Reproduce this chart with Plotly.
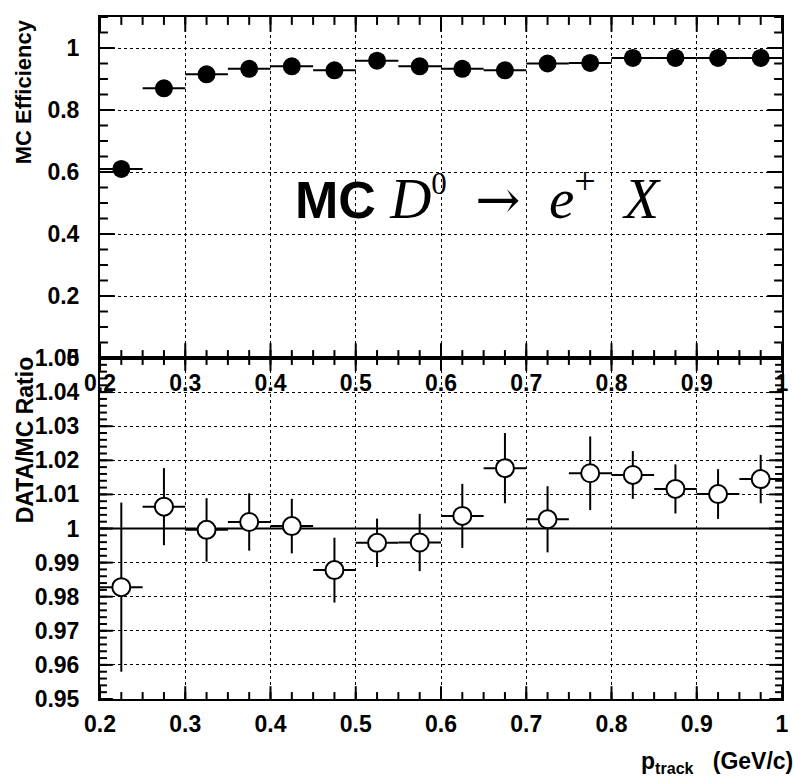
import plotly.graph_objects as go

# ---- data ----
bin_centers = [0.225, 0.275, 0.325, 0.375, 0.425, 0.475, 0.525, 0.575,
               0.625, 0.675, 0.725, 0.775, 0.825, 0.875, 0.925, 0.975]
bin_halfwidth = [0.025] * 16
mc_eff = [0.610, 0.870, 0.915, 0.933, 0.941, 0.928, 0.959, 0.941,
          0.933, 0.928, 0.950, 0.952, 0.968, 0.968, 0.968, 0.968]
ratio = [0.9828, 1.0064, 0.9996, 1.0019, 1.0007, 0.9878, 0.9958, 0.9959,
         1.0037, 1.0177, 1.0027, 1.0162, 1.0157, 1.0116, 1.0101, 1.0145]
ratio_err = [0.0248, 0.0113, 0.0093, 0.0084, 0.0080, 0.0095, 0.0071, 0.0084,
             0.0094, 0.0103, 0.0097, 0.0108, 0.0070, 0.0072, 0.0073, 0.0071]

# axis settings
x_range = [0.2, 1.0]
x_major, x_minor = 0.1, 0.025
ytop_range = [0.0, 1.1]
ytop_major, ytop_minor = 0.2, 0.05
ybot_range = [0.95, 1.05]
ybot_major, ybot_minor = 0.01, 0.002

W, H = 793, 778
ML, MR, MT, MB = 100, 4, 9, 79
PW = W - ML - MR
PH = H - MT - MB
PANEL_H = PH / 2

FONT = "Liberation Sans"
tickfont = dict(family=FONT, size=23, color="black", weight="bold")


def tick_values(lo, hi, step):
    n = int((hi - lo) / step + 1e-6)
    return [round(lo + i * step, 6) for i in range(n + 1)]


def tick_segments(xr, yr, xmaj, xmin, ymaj, ymin, len_x, len_y):
    """ROOT-style inside ticks on all four sides, in data units of the axes."""
    dx = (xr[1] - xr[0]) / PW          # data per pixel along x
    dy = (yr[1] - yr[0]) / PANEL_H     # data per pixel along y
    xs, ys = [], []
    for vals, L in ((tick_values(xr[0], xr[1], xmin), len_x[1]),
                    (tick_values(xr[0], xr[1], xmaj), len_x[0])):
        for v in vals:
            xs += [v, v, None, v, v, None]
            ys += [yr[0], yr[0] + L * dy, None, yr[1], yr[1] - L * dy, None]
    y0 = yr[0]
    for vals, L in ((tick_values(y0, yr[1], ymin), len_y[1]),
                    (tick_values(y0, yr[1], ymaj), len_y[0])):
        for v in vals:
            xs += [xr[0], xr[0] + L * dx, None, xr[1], xr[1] - L * dx, None]
            ys += [v, v, None, v, v, None]
    return xs, ys


fig = go.Figure()

# tick marks
for (xa, ya, yr, ymaj, ymin, lx, ly) in (
        ("x", "y", ytop_range, ytop_major, ytop_minor, (15, 8), (15, 8)),
        ("x2", "y2", ybot_range, ybot_major, ybot_minor, (13, 7), (13, 7))):
    tx, ty = tick_segments(x_range, yr, x_major, x_minor, ymaj, ymin, lx, ly)
    fig.add_trace(go.Scatter(x=tx, y=ty, mode="lines", line=dict(color="black", width=2),
                             xaxis=xa, yaxis=ya, hoverinfo="skip", showlegend=False))

fig.add_trace(go.Scatter(
    x=x_range, y=[1.0, 1.0], mode="lines", line=dict(color="black", width=2),
    xaxis="x2", yaxis="y2", hoverinfo="skip", showlegend=False))

fig.add_trace(go.Scatter(
    x=bin_centers, y=mc_eff, mode="markers",
    marker=dict(symbol="circle", size=18, color="black"),
    error_x=dict(type="data", array=bin_halfwidth, thickness=2, width=0, color="black"),
    xaxis="x", yaxis="y", showlegend=False))

fig.add_trace(go.Scatter(
    x=bin_centers, y=ratio, mode="markers",
    marker=dict(symbol="circle", size=18, color="white", line=dict(color="black", width=2)),
    error_x=dict(type="data", array=bin_halfwidth, thickness=2, width=0, color="black"),
    error_y=dict(type="data", array=ratio_err, thickness=2, width=0, color="black"),
    xaxis="x2", yaxis="y2", showlegend=False))

eps = 1e-6
base = dict(showline=True, linewidth=2, linecolor="black", mirror=True,
            ticks="outside", tickcolor="rgba(0,0,0,0)",
            showgrid=True, gridcolor="black", griddash="dot", gridwidth=1,
            tickfont=tickfont, zeroline=False, ticklabeloverflow="allow")

fig.update_layout(
    width=W, height=H,
    margin=dict(l=ML, r=MR, t=MT, b=MB, pad=0),
    paper_bgcolor="white", plot_bgcolor="white",
    xaxis=dict(domain=[0, 1], anchor="y", range=[x_range[0] - eps, x_range[1] + eps],
               dtick=x_major, tick0=0, ticklen=3, **base),
    yaxis=dict(domain=[0.5, 1.0], anchor="x", range=ytop_range,
               dtick=ytop_major, tick0=0, ticklen=14, **base),
    xaxis2=dict(domain=[0, 1], anchor="y2", range=[x_range[0] - eps, x_range[1] + eps],
                dtick=x_major, tick0=0, ticklen=3, **base),
    yaxis2=dict(domain=[0.0, 0.5], anchor="x2", range=[ybot_range[0] - eps, ybot_range[1] + eps],
                dtick=ybot_major, tick0=0, ticklen=14, **base),
)


def px_x(p):
    return (p - ML) / PW


def px_y(p):
    return 1 - (p - MT) / PH


fig.add_annotation(
    xref="paper", yref="paper", x=px_x(23), y=1.0, xanchor="center", yanchor="top",
    text="MC Efficiency", textangle=-90, showarrow=False,
    font=dict(family=FONT, size=22, color="black", weight="bold"))
fig.add_annotation(
    xref="paper", yref="paper", x=px_x(24), y=px_y(350), xanchor="center", yanchor="top",
    text="DATA/MC Ratio", textangle=-90, showarrow=False,
    font=dict(family=FONT, size=23, color="black", weight="bold"))
fig.add_annotation(
    xref="paper", yref="paper", x=px_x(802), y=px_y(763), xanchor="right", yanchor="middle",
    text="p<sub>track</sub>\u00a0\u00a0\u00a0(GeV/c)", showarrow=False,
    font=dict(family=FONT, size=23, color="black", weight="bold"))
fig.add_annotation(
    xref="paper", yref="paper", x=px_x(295), y=px_y(190), xanchor="left", yanchor="middle",
    text=("<span style=\"font-family:'Liberation Sans';font-weight:bold;font-size:52px\">MC</span>\u00a0"
          "<i>D</i><sup><span style=\"font-size:31px\">0</span></sup>\u00a0\u00a0"
          "<span style=\"font-family:'DejaVu Serif';font-size:54px\">\u2192</span>\u00a0\u00a0"
          "<i>e</i><sup><span style=\"font-size:38px\">+</span></sup>\u00a0\u00a0<i>X</i>"),
    showarrow=False, font=dict(family="Liberation Serif", size=57, color="black"))

fig.write_html("out.html")
